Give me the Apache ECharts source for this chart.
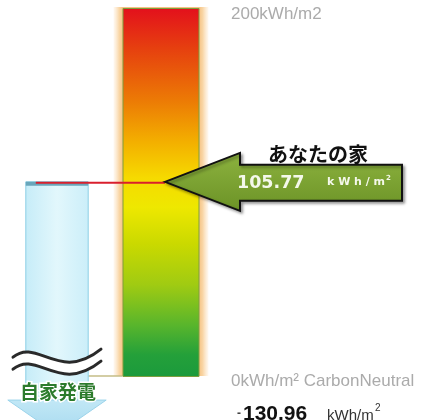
<!DOCTYPE html>
<html><head><meta charset="utf-8">
<script src="https://cdn.jsdelivr.net/npm/echarts@6/dist/echarts.min.js"></script>
<style>html,body{margin:0;padding:0;background:#fff;overflow:hidden}#c{width:421px;height:420px}</style>
</head><body><div id="c"></div>
<script>
// ---- data ----
const categories = ['自家発電', 'スケール', 'あなたの家', ''];
const scaleValues = ['-', 200, '-', '-'];
const houseValues = [105.77];
const selfGenValues = [-130.96];
const tickValues = [200, 0];
const tickLabels = ['200kWh/m2', '0kWh/m² CarbonNeutral'];
const houseLabel = 'あなたの家';
const selfGenLabel = '自家発電';
const unitLabel = 'kWh/m';

// ---- layout constants (display only) ----
const BREAK_SHOW = -12.5;   // axis value where the broken arrow body is cut
const WAVE_AT = 7.5;        // axis value where the break symbol is drawn
const FONT_JP = '"Noto Sans CJK JP", sans-serif';

const chart = echarts.init(document.getElementById('c'));

const barGradient = new echarts.graphic.LinearGradient(0, 0, 0, 1, [
  {offset: 0, color: '#e3101c'},
  {offset: 0.11, color: '#e6400f'},
  {offset: 0.25, color: '#ec7a05'},
  {offset: 0.36, color: '#f3ae00'},
  {offset: 0.46, color: '#f6da00'},
  {offset: 0.54, color: '#eee800'},
  {offset: 0.64, color: '#cad900'},
  {offset: 0.75, color: '#a0cb12'},
  {offset: 0.86, color: '#58b52c'},
  {offset: 0.94, color: '#24a03a'},
  {offset: 1, color: '#1b9a3c'}
]);

function glowItem(params, api) {
  const top = api.coord([1, api.value(1)]);
  const bot = api.coord([1, 0]);
  const half = api.size([1, 0])[0] * 0.74 / 2;
  const blueRight = api.coord([0, 0])[0] + api.size([1, 0])[0] * 0.6 / 2;
  return {
    type: 'group',
    children: [
      {type: 'rect', shape: {x: top[0] - half - 9, y: top[1] - 1, width: 2 * half + 18, height: bot[1] - top[1]},
        style: {fill: new echarts.graphic.LinearGradient(0, 0, 1, 0, [
          {offset: 0, color: 'rgba(252,225,190,0.2)'},
          {offset: 0.06, color: '#f9d6a6'},
          {offset: 0.1, color: '#f6c283'},
          {offset: 0.9, color: '#f6c283'},
          {offset: 0.94, color: '#f9d6a6'},
          {offset: 1, color: 'rgba(252,225,190,0.2)'}
        ])}},
      {type: 'line', shape: {x1: blueRight, y1: bot[1] - 1, x2: top[0] - half, y2: bot[1] - 1},
        style: {stroke: '#c4bc86', lineWidth: 1.5}}
    ]
  };
}

function blueItem(params, api) {
  const x = api.value(0);
  const top = api.coord([x, api.value(1)]);
  const cx = top[0];
  const half = api.size([1, 0])[0] * 0.6 / 2;
  const bodyBottom = api.coord([x, BREAK_SHOW])[1];
  const headHalf = half + 18;
  const tipY = bodyBottom + 34;
  const wy = api.coord([x, WAVE_AT])[1];
  const L = cx - 44;
  function wave(dy, color, w) {
    return {type: 'bezierCurve', shape: {
      x1: L, y1: wy - 6 + dy, cpx1: L + 24, cpy1: wy - 26 + dy,
      cpx2: L + 46, cpy2: wy + 20 + dy, x2: L + 88, y2: wy - 14 + dy},
      style: {stroke: color, lineWidth: w, fill: null, lineCap: 'round'}};
  }
  return {
    type: 'group',
    children: [
      {type: 'rect', shape: {x: cx - half, y: top[1], width: 2 * half, height: bodyBottom - top[1]},
        style: {fill: new echarts.graphic.LinearGradient(0, 0, 1, 0, [
          {offset: 0, color: '#c6ecf8'}, {offset: 0.5, color: '#e2f7fc'}, {offset: 1, color: '#cbeef9'}]),
          stroke: '#8ccfe5', lineWidth: 1}},
      {type: 'rect', shape: {x: cx - half, y: top[1], width: 2 * half, height: 4},
        style: {fill: '#69a6bb'}},
      {type: 'polygon', shape: {points: [
        [cx - headHalf, bodyBottom], [cx + headHalf, bodyBottom], [cx, tipY]]},
        style: {fill: new echarts.graphic.LinearGradient(0, 0, 0, 1, [
          {offset: 0, color: '#c2e8f6'}, {offset: 1, color: '#a6d9ef'}]),
          stroke: '#9bd3ea', lineWidth: 1}},
      wave(6, '#ffffff', 10),
      wave(0, '#2a2a2a', 3),
      wave(12, '#2a2a2a', 3),
      {type: 'text', x: cx + 1, y: bodyBottom - 8,
        style: {text: selfGenLabel, fill: '#2c7b2c', stroke: '#ffffff', lineWidth: 3,
          font: 'bold 19px ' + FONT_JP, align: 'center', verticalAlign: 'middle'}},
      {type: 'text', x: 237, y: 414,
        style: {text: '{m|-}{n|' + Math.abs(api.value(2)).toFixed(2) + '}',
          rich: {
            m: {font: 'bold 12px "Liberation Sans", Arial', fill: '#444', padding: [0, 2, 0, 0]},
            n: {font: 'bold 21px "Liberation Sans", Arial', fill: '#111'}
          }, align: 'left', verticalAlign: 'middle'}},
      {type: 'text', x: 327, y: 416,
        style: {text: unitLabel, font: '15px "Liberation Sans", Arial', fill: '#333', align: 'left', verticalAlign: 'middle'}},
      {type: 'text', x: 375, y: 408,
        style: {text: '2', font: '10px "Liberation Sans", Arial', fill: '#333', align: 'left', verticalAlign: 'middle'}}
    ]
  };
}

function houseItem(params, api) {
  const v = api.value(1);
  const c = api.coord([1, v]);
  const blueLeft = api.coord([0, v])[0] - api.size([1, 0])[0] * 0.6 / 2;
  const tipX = c[0] + 4, y = c[1];
  const baseX = tipX + 75, endX = tipX + 237;
  const hh = 29, sh = 18;
  return {
    type: 'group',
    children: [
      {type: 'line', shape: {x1: blueLeft + 10, y1: y + 1, x2: tipX, y2: y + 1},
        style: {stroke: '#d91f2d', lineWidth: 2}},
      {type: 'polygon', shape: {points: [
        [tipX, y], [baseX, y - hh], [baseX, y - sh + 1], [endX, y - sh + 1],
        [endX, y + sh + 1], [baseX, y + sh + 1], [baseX, y + hh]]},
        style: {fill: new echarts.graphic.LinearGradient(0, 0, 0, 1, [
          {offset: 0, color: '#8db33f'}, {offset: 1, color: '#6b9226'}]),
          stroke: '#111', lineWidth: 2, lineJoin: 'miter',
          shadowBlur: 3, shadowColor: 'rgba(0,0,0,0.35)', shadowOffsetX: 2, shadowOffsetY: 2}},
      {type: 'text', x: baseX + 78, y: y - 27,
        style: {text: houseLabel, font: 'bold 20px ' + FONT_JP, fill: '#111', align: 'center', verticalAlign: 'middle'}},
      {type: 'text', x: baseX - 3, y: y + 2,
        style: {text: v.toFixed(2), font: 'bold 17.5px "DejaVu Sans", Verdana', fill: '#f4f8ea', align: 'left', verticalAlign: 'middle'}},
      {type: 'text', x: baseX + 87, y: y,
        style: {text: 'k W h / m', font: 'bold 11px "DejaVu Sans", Verdana', fill: '#f4f8ea', align: 'left', verticalAlign: 'middle'}},
      {type: 'text', x: baseX + 146, y: y - 4,
        style: {text: '2', font: 'bold 7px "DejaVu Sans", Verdana', fill: '#f4f8ea', align: 'left', verticalAlign: 'middle'}}
    ]
  };
}

function tickItem(params, api) {
  const v = api.value(1);
  const c = api.coord([2, v]);
  const i = api.value(2);
  return {
    type: 'text', x: c[0] - 34, y: c[1] + (v > 0 ? 6 : 4),
    style: {text: tickLabels[i], font: '17px "Liberation Sans", Arial', fill: '#ababab', align: 'left', verticalAlign: 'middle'}
  };
}

chart.setOption({
  animation: false,
  backgroundColor: '#ffffff',
  grid: {left: 5, right: 0, top: 8, bottom: 0},
  xAxis: {type: 'category', data: categories, show: false},
  yAxis: {type: 'value', min: -23.3, max: 200, show: false},
  series: [
    {type: 'custom', z: 1, silent: true, data: [[1, 200]], renderItem: glowItem},
    {type: 'bar', z: 2, silent: true, data: scaleValues, barWidth: 77,
      itemStyle: {color: barGradient, borderColor: '#7e9e3e', borderWidth: 1}},
    {type: 'custom', z: 3, silent: true, clip: false,
      data: [[0, houseValues[0], selfGenValues[0]]], renderItem: blueItem},
    {type: 'custom', z: 4, silent: true, clip: false,
      data: houseValues.map(v => [2, v]), renderItem: houseItem},
    {type: 'custom', z: 5, silent: true, clip: false,
      data: tickValues.map((v, i) => [2, v, i]), renderItem: tickItem}
  ]
});
</script>
</body></html>
